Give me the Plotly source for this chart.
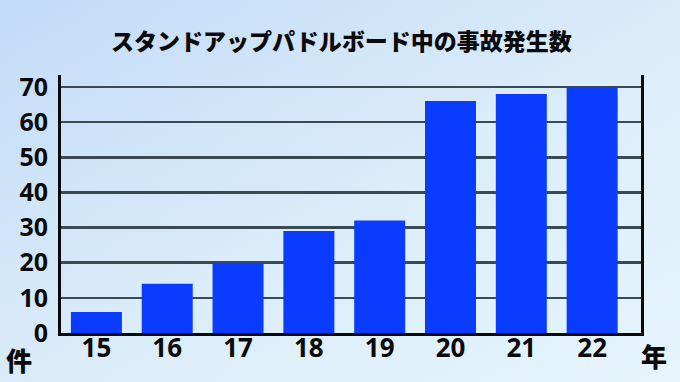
import plotly.graph_objects as go
import base64

years = ["15", "16", "17", "18", "19", "20", "21", "22"]
counts = [6, 14, 20, 29, 32, 66, 68, 70]
y_ticks = [0, 10, 20, 30, 40, 50, 60, 70]
title_text = "スタンドアップパドルボード中の事故発生数"
y_unit = "件"
x_unit = "年"

W, H = 680, 382
ml, mr, mt, mb = 61, 39, 75, 49
pw, ph = W - ml - mr, H - mt - mb

svg = ('<svg xmlns="http://www.w3.org/2000/svg" width="680" height="382" preserveAspectRatio="none">'
       '<defs><linearGradient id="g" x1="0" y1="0" x2="1" y2="1">'
       '<stop offset="0" stop-color="#c2dbf7"/><stop offset="0.55" stop-color="#dcedfa"/>'
       '<stop offset="1" stop-color="#e6f5fc"/></linearGradient></defs>'
       '<rect width="680" height="382" fill="url(#g)"/></svg>')
src = "data:image/svg+xml;base64," + base64.b64encode(svg.encode()).decode()

font = "Noto Sans CJK JP"
numfont = "Open Sans"
ink = "#0a0a0a"
xpos = list(range(len(years)))

fig = go.Figure(go.Bar(x=xpos, y=counts, marker=dict(color="#0a3cff", line=dict(width=0)),
                       width=0.72, hoverinfo="skip"))

fig.update_layout(
    width=W, height=H, autosize=False,
    margin=dict(l=ml, r=mr, t=mt, b=mb, pad=0, autoexpand=False),
    paper_bgcolor="#e0eefa", plot_bgcolor="rgba(0,0,0,0)",
    showlegend=False,
    images=[dict(source=src, xref="paper", yref="paper", x=-ml / pw, y=1 + mt / ph,
                 sizex=W / pw, sizey=H / ph, xanchor="left", yanchor="top",
                 sizing="stretch", layer="below")],
    font=dict(family=font, color=ink),
    xaxis=dict(range=[-0.5, 7.69], tickvals=xpos, ticktext=years, showgrid=False,
               zeroline=False, showline=True, linecolor=ink, linewidth=3,
               tickfont=dict(size=26, family=numfont, weight=700, color=ink),
               ticks="", ticklabelstandoff=-10, automargin=False, fixedrange=True),
    yaxis=dict(range=[0, 73.4], tickvals=y_ticks, showgrid=True, gridcolor="#3a4a52",
               gridwidth=2.5, zeroline=False, showline=True, mirror=True,
               linecolor=ink, linewidth=3, ticks="", ticklabelstandoff=5,
               tickfont=dict(size=25, family=numfont, weight=700, color=ink),
               automargin=False, fixedrange=True),
    annotations=[
        dict(text=title_text, xref="paper", yref="paper", x=(341 - ml) / pw, y=1 + (mt - 40) / ph,
             xanchor="center", yanchor="middle", showarrow=False,
             font=dict(size=23, family=font, weight=900, color=ink)),
        dict(text=y_unit, xref="paper", yref="paper", x=(19 - ml) / pw, y=-(359 - mt - ph) / ph,
             xanchor="center", yanchor="middle", showarrow=False,
             font=dict(size=26, family=font, weight=900, color=ink)),
        dict(text=x_unit, xref="paper", yref="paper", x=(654 - ml) / pw, y=-(355 - mt - ph) / ph,
             xanchor="center", yanchor="middle", showarrow=False,
             font=dict(size=26, family=font, weight=900, color=ink)),
    ],
)

fig.write_html("out.html", config={"displayModeBar": False, "staticPlot": True},
               post_script="document.body.style.margin='0';document.body.style.overflow='hidden';")
